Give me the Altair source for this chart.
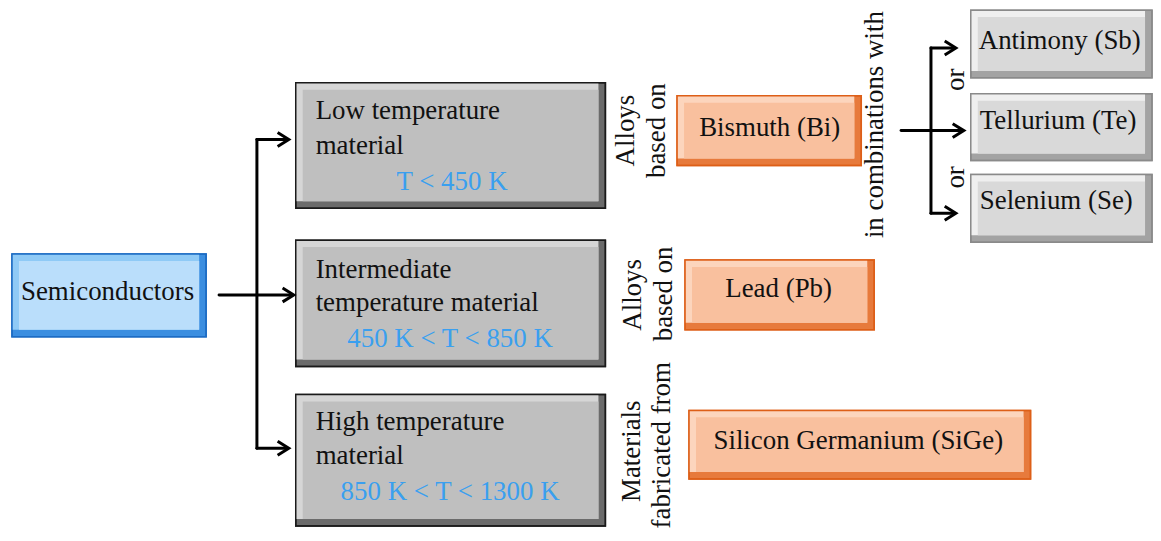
import altair as alt
import pandas as pd

# ---------------- data ----------------
box_name = ["Semiconductors", "Low temperature material", "Intermediate temperature material",
            "High temperature material", "Bismuth (Bi)", "Lead (Pb)", "Silicon Germanium (SiGe)",
            "Antimony (Sb)", "Tellurium (Te)", "Selenium (Se)"]
box_left = [12, 297, 297, 297, 680, 688, 692, 975, 975, 975]
box_right = [207, 608, 608, 608, 865, 878, 1035, 1157, 1157, 1157]
box_top = [252, 80, 238, 393, 93, 258, 409, 7, 91, 172]
box_bottom = [335, 206, 365, 525, 163, 328, 478, 75, 158, 240]
box_style = ["blue", "gray", "gray", "gray", "orange", "orange", "orange", "light", "light", "light"]

# horizontal texts, left aligned
left_text = ["Low temperature", "material", "Intermediate", "temperature material",
             "High temperature", "material", "Antimony (Sb)", "Tellurium (Te)", "Selenium (Se)"]
left_x = [317, 317, 317, 317, 317, 317, 983, 984, 984]
left_y = [108, 143, 268, 301, 421, 455, 38, 118, 199]

# horizontal texts, centred
center_text = ["Semiconductors", "T < 450 K", "450 K < T < 850 K", "850 K < T < 1300 K",
               "Bismuth (Bi)", "Lead (Pb)", "Silicon Germanium (SiGe)"]
center_x = [108, 454, 452, 452, 773, 782, 862]
center_y = [290, 180, 337, 491, 125, 287, 440]
center_color = ["#111111", "#3a9fef", "#3a9fef", "#3a9fef", "#111111", "#111111", "#111111"]

# vertical (rotated) texts
rot_text = ["Alloys", "based on", "Alloys", "based on", "Materials", "fabricated from",
            "in combinations with", "or", "or"]
rot_x = [629, 660, 636, 667, 635, 665, 879, 960, 960]
rot_y = [128, 128, 293, 292, 450, 444, 122, 77, 175]

# connector lines
seg_x = [220, 258, 258, 258, 258, 905, 935, 935, 935]
seg_x2 = [258, 258, 288, 293, 288, 966, 935, 958, 958]
seg_y = [293, 137, 137, 293, 447, 128, 45, 45, 211]
seg_y2 = [293, 447, 137, 293, 447, 128, 211, 45, 211]

# arrow tips
tip_x = [290, 295, 290, 968, 960, 960]
tip_y = [137, 293, 447, 128, 45, 211]

palette = {
    #          stroke      dark        light       main
    "blue":   ["#1d6cc4", "#3b8ee0", "#8fcaf6", "#badefb"],
    "gray":   ["#1a1a1a", "#6b6b6b", "#d6d6d6", "#bfbfbf"],
    "orange": ["#dd5f18", "#e77a3c", "#fcd5bd", "#f9c09e"],
    "light":  ["#8a8a8a", "#a3a3a3", "#efefef", "#d9d9d9"],
}

FONT = "Liberation Serif"
FS = 27
W, H = 1145, 525
X = dict(scale=alt.Scale(domain=[8, 8 + W], nice=False, zero=False), axis=None)
Y = dict(scale=alt.Scale(domain=[8, 8 + H], nice=False, zero=False, reverse=True), axis=None)

boxes = pd.DataFrame(dict(name=box_name, x0=box_left, x1=box_right, y0=box_top, y1=box_bottom, style=box_style))
boxes["stroke"] = boxes["style"].map(lambda s: palette[s][0])
boxes["dark"] = boxes["style"].map(lambda s: palette[s][1])
boxes["light"] = boxes["style"].map(lambda s: palette[s][2])
boxes["main"] = boxes["style"].map(lambda s: palette[s][3])
bev = 7
boxes["lx1"] = boxes["x1"] - bev
boxes["ly1"] = boxes["y1"] - bev
boxes["ix0"] = boxes["x0"] + bev
boxes["iy0"] = boxes["y0"] + bev

outer = alt.Chart(boxes).mark_rect(strokeWidth=1.5).encode(
    x=alt.X("x0:Q", **X), x2="x1:Q", y=alt.Y("y0:Q", **Y), y2="y1:Q",
    fill=alt.Fill("dark:N", scale=None), stroke=alt.Stroke("stroke:N", scale=None))
lightr = alt.Chart(boxes).mark_rect().encode(
    x=alt.X("x0:Q", **X), x2="lx1:Q", y=alt.Y("y0:Q", **Y), y2="ly1:Q",
    fill=alt.Fill("light:N", scale=None))
inner = alt.Chart(boxes).mark_rect().encode(
    x=alt.X("ix0:Q", **X), x2="lx1:Q", y=alt.Y("iy0:Q", **Y), y2="ly1:Q",
    fill=alt.Fill("main:N", scale=None))
border = alt.Chart(boxes).mark_rect(fillOpacity=0, strokeWidth=1.5).encode(
    x=alt.X("x0:Q", **X), x2="x1:Q", y=alt.Y("y0:Q", **Y), y2="y1:Q",
    stroke=alt.Stroke("stroke:N", scale=None))

segs = pd.DataFrame(dict(x=seg_x, x2=seg_x2, y=seg_y, y2=seg_y2))
lines = alt.Chart(segs).mark_rule(color="#000000", strokeWidth=3, strokeCap="round").encode(
    x=alt.X("x:Q", **X), x2="x2:Q", y=alt.Y("y:Q", **Y), y2="y2:Q")

tips = pd.DataFrame(dict(x=tip_x, y=tip_y))
heads = alt.Chart(tips).mark_point(
    shape="M-1.6,-1L0,0L-1.6,1", size=196, filled=False, stroke="#000000",
    strokeWidth=3, opacity=1, strokeJoin="miter").encode(
    x=alt.X("x:Q", **X), y=alt.Y("y:Q", **Y))

ltxt = pd.DataFrame(dict(t=left_text, x=left_x, y=left_y))
left_layer = alt.Chart(ltxt).mark_text(font=FONT, fontSize=FS, align="left", baseline="middle",
                                       color="#111111").encode(
    x=alt.X("x:Q", **X), y=alt.Y("y:Q", **Y), text="t:N")

ctxt = pd.DataFrame(dict(t=center_text, x=center_x, y=center_y, c=center_color))
center_layer = alt.Chart(ctxt).mark_text(font=FONT, fontSize=FS, align="center", baseline="middle").encode(
    x=alt.X("x:Q", **X), y=alt.Y("y:Q", **Y), text="t:N", color=alt.Color("c:N", scale=None))

rtxt = pd.DataFrame(dict(t=rot_text, x=rot_x, y=rot_y))
rot_layer = alt.Chart(rtxt).mark_text(font=FONT, fontSize=FS, align="center", baseline="middle",
                                      angle=270, color="#111111").encode(
    x=alt.X("x:Q", **X), y=alt.Y("y:Q", **Y), text="t:N")

chart = alt.layer(outer, lightr, inner, border, lines, heads, left_layer, center_layer, rot_layer).properties(
    width=W, height=H, padding=0, background="#ffffff"
).configure_view(stroke=None)

chart.save("out.html", embed_options={"renderer": "svg", "actions": False})
